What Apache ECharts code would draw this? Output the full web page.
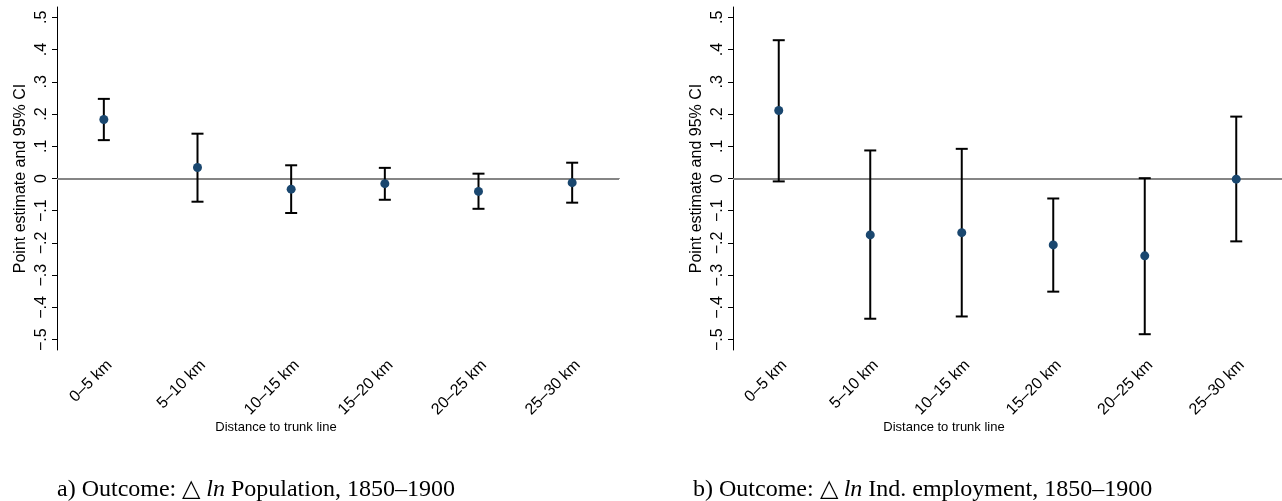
<!DOCTYPE html>
<html>
<head>
<meta charset="utf-8">
<script src="https://cdn.jsdelivr.net/npm/echarts@6/dist/echarts.min.js"></script>
<style>
  html, body { margin: 0; padding: 0; background: #fff; }
  #chart { width: 1282px; height: 501px; }
</style>
</head>
<body>
<div id="chart"></div>
<script>
// distance bins
var categories = ['0–5 km', '5–10 km', '10–15 km', '15–20 km', '20–25 km', '25–30 km'];

// a) population
var popEst = [0.183, 0.034, -0.033, -0.016, -0.040, -0.013];
var popLo = [0.119, -0.072, -0.107, -0.066, -0.094, -0.075];
var popHi = [0.247, 0.139, 0.041, 0.033, 0.015, 0.049];

// b) industrial employment
var empEst = [0.211, -0.175, -0.168, -0.206, -0.240, -0.002];
var empLo = [-0.009, -0.435, -0.428, -0.351, -0.483, -0.195];
var empHi = [0.429, 0.087, 0.092, -0.062, 0.001, 0.192];

var yTicks = [-0.5, -0.4, -0.3, -0.2, -0.1, 0, 0.1, 0.2, 0.3, 0.4, 0.5];
var yTickLabels = ['−.5', '−.4', '−.3', '−.2', '−.1', '0', '.1', '.2', '.3', '.4', '.5'];

var sans = 'Liberation Sans, Arial, Helvetica, sans-serif';
var serif = 'Liberation Serif, Times New Roman, serif';
var navy = '#1a476f';

var chart = echarts.init(document.getElementById('chart'));

function tickLabel(v) {
  var k = Math.round(v * 10);
  var idx = yTicks.findIndex(function (t) { return Math.round(t * 10) === k; });
  return idx >= 0 ? yTickLabels[idx] : '';
}

function errorBars(params, api) {
  var x = api.value(0);
  var lo = api.coord([x, api.value(1)]);
  var hi = api.coord([x, api.value(2)]);
  var half = 6;
  var style = { stroke: '#000', lineWidth: 2 };
  return {
    type: 'group',
    children: [
      { type: 'line', shape: { x1: lo[0], y1: lo[1], x2: hi[0], y2: hi[1] }, style: style },
      { type: 'line', shape: { x1: hi[0] - half, y1: hi[1], x2: hi[0] + half, y2: hi[1] }, style: style },
      { type: 'line', shape: { x1: lo[0] - half, y1: lo[1], x2: lo[0] + half, y2: lo[1] }, style: style }
    ]
  };
}

var grids = [
  { left: 57, top: 7, right: 663, bottom: 151 },
  { left: 733, top: 7, right: -11, bottom: 151 }
];

var xAxes = [], yAxes = [], series = [];
var panels = [
  { est: popEst, lo: popLo, hi: popHi },
  { est: empEst, lo: empLo, hi: empHi }
];

panels.forEach(function (p, i) {
  xAxes.push({
    type: 'category',
    gridIndex: i,
    data: categories,
    boundaryGap: true,
    axisLine: { lineStyle: { color: '#000', width: 1 } },
    axisTick: { alignWithLabel: true, length: 5, lineStyle: { color: '#000' } },
    axisLabel: {
      interval: 0, rotate: 45, margin: 7, verticalAlign: 'top',
      color: '#000', fontFamily: sans, fontSize: 16
    },
    splitLine: { show: false }
  });
  yAxes.push({
    type: 'value',
    gridIndex: i,
    min: -0.532,
    max: 0.532,
    name: 'Point estimate and 95% CI',
    nameLocation: 'middle',
    nameGap: 28,
    nameTextStyle: { color: '#000', fontFamily: sans, fontSize: 16 },
    axisLine: { show: true, lineStyle: { color: '#000', width: 1 } },
    axisTick: { show: true, length: 5, lineStyle: { color: '#000' }, customValues: yTicks },
    axisLabel: {
      rotate: 90, margin: 7, color: '#000', fontFamily: sans, fontSize: 16,
      customValues: yTicks, formatter: tickLabel
    },
    splitLine: { show: false }
  });
  series.push({
    type: 'custom',
    xAxisIndex: i,
    yAxisIndex: i,
    renderItem: errorBars,
    encode: { x: 0, y: [1, 2] },
    data: categories.map(function (c, j) { return [j, p.lo[j], p.hi[j]]; }),
    z: 3,
    markLine: {
      silent: true,
      symbol: 'none',
      label: { show: false },
      lineStyle: { color: '#858585', width: 2, type: 'solid' },
      data: [{ yAxis: 0 }],
      z: 1
    }
  });
  series.push({
    type: 'scatter',
    xAxisIndex: i,
    yAxisIndex: i,
    data: p.est,
    symbol: 'circle',
    symbolSize: 9,
    itemStyle: { color: navy, opacity: 1 },
    z: 4
  });
});

function caption(x, head, tail) {
  return {
    type: 'text',
    x: x,
    y: 490,
    style: {
      text: '{n|' + head + '}{i|ln}{n|' + tail + '}',
      verticalAlign: 'middle',
      align: 'left',
      rich: {
        n: { fontFamily: serif, fontSize: 24, fill: '#000' },
        i: { fontFamily: serif, fontSize: 24, fontStyle: 'italic', fill: '#000' }
      }
    }
  };
}

function axisTitle(x) {
  return {
    type: 'text',
    x: x,
    y: 427,
    style: {
      text: 'Distance to trunk line',
      align: 'center',
      verticalAlign: 'middle',
      fontFamily: sans,
      fontSize: 13,
      fill: '#000'
    }
  };
}

chart.setOption({
  animation: false,
  backgroundColor: '#fff',
  grid: grids,
  xAxis: xAxes,
  yAxis: yAxes,
  series: series,
  graphic: [
    axisTitle(276),
    axisTitle(944),
    caption(57, 'a) Outcome: △ ', ' Population, 1850–1900'),
    caption(693, 'b) Outcome: △ ', ' Ind. employment, 1850–1900')
  ]
});
</script>
</body>
</html>
